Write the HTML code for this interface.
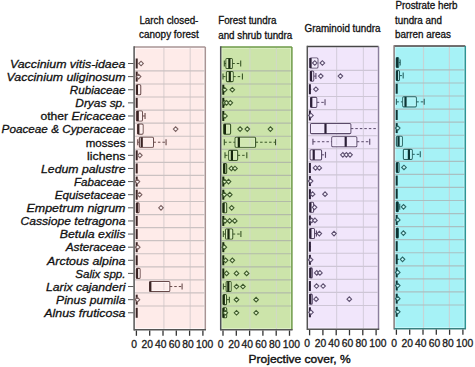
<!DOCTYPE html>
<html><head><meta charset="utf-8"><style>html,body{margin:0;padding:0;background:#fff;overflow:hidden}svg{display:block}text{font-family:"Liberation Sans",sans-serif}</style></head><body>
<svg width="475" height="367" viewBox="0 0 475 367">
<rect width="475" height="367" fill="#ffffff"/>
<text x="139.4" y="23.6" font-family="Liberation Sans, sans-serif" font-size="10" fill="#111" stroke="#111" stroke-width="0.3" textLength="59" lengthAdjust="spacingAndGlyphs">Larch closed-</text>
<text x="139.1" y="38" font-family="Liberation Sans, sans-serif" font-size="10" fill="#111" stroke="#111" stroke-width="0.3" textLength="59.6" lengthAdjust="spacingAndGlyphs">canopy forest</text>
<text x="218.2" y="24" font-family="Liberation Sans, sans-serif" font-size="10" fill="#111" stroke="#111" stroke-width="0.3" textLength="58.2" lengthAdjust="spacingAndGlyphs">Forest tundra</text>
<text x="218.2" y="38.7" font-family="Liberation Sans, sans-serif" font-size="10" fill="#111" stroke="#111" stroke-width="0.3" textLength="74.1" lengthAdjust="spacingAndGlyphs">and shrub tundra</text>
<text x="304.5" y="32.3" font-family="Liberation Sans, sans-serif" font-size="10" fill="#111" stroke="#111" stroke-width="0.3" textLength="76" lengthAdjust="spacingAndGlyphs">Graminoid tundra</text>
<text x="395.4" y="9.1" font-family="Liberation Sans, sans-serif" font-size="10" fill="#111" stroke="#111" stroke-width="0.3" textLength="62.2" lengthAdjust="spacingAndGlyphs">Prostrate herb</text>
<text x="395" y="23.9" font-family="Liberation Sans, sans-serif" font-size="10" fill="#111" stroke="#111" stroke-width="0.3" textLength="46.9" lengthAdjust="spacingAndGlyphs">tundra and</text>
<text x="395" y="37.7" font-family="Liberation Sans, sans-serif" font-size="10" fill="#111" stroke="#111" stroke-width="0.3" textLength="55.8" lengthAdjust="spacingAndGlyphs">barren areas</text>
<rect x="134.1" y="47" width="71.2" height="282.8" fill="#fff8f8"/>
<rect x="135.9" y="48.8" width="67.6" height="279.2" fill="#feebe9"/>
<line x1="163.9" y1="48" x2="163.9" y2="328.8" stroke="#ddd2d2" stroke-width="1.2"/>
<line x1="190.2" y1="48" x2="190.2" y2="328.8" stroke="#ddd2d2" stroke-width="1.2"/>
<line x1="135.1" y1="70.9" x2="204.3" y2="70.9" stroke="#cbc2c2" stroke-width="1.15"/>
<line x1="135.1" y1="83.96" x2="204.3" y2="83.96" stroke="#cbc2c2" stroke-width="1.15"/>
<line x1="135.1" y1="97.02" x2="204.3" y2="97.02" stroke="#cbc2c2" stroke-width="1.15"/>
<line x1="135.1" y1="110.08" x2="204.3" y2="110.08" stroke="#cbc2c2" stroke-width="1.15"/>
<line x1="135.1" y1="123.14" x2="204.3" y2="123.14" stroke="#cbc2c2" stroke-width="1.15"/>
<line x1="135.1" y1="136.2" x2="204.3" y2="136.2" stroke="#cbc2c2" stroke-width="1.15"/>
<line x1="135.1" y1="149.26" x2="204.3" y2="149.26" stroke="#cbc2c2" stroke-width="1.15"/>
<line x1="135.1" y1="162.32" x2="204.3" y2="162.32" stroke="#cbc2c2" stroke-width="1.15"/>
<line x1="135.1" y1="175.38" x2="204.3" y2="175.38" stroke="#cbc2c2" stroke-width="1.15"/>
<line x1="135.1" y1="188.44" x2="204.3" y2="188.44" stroke="#cbc2c2" stroke-width="1.15"/>
<line x1="135.1" y1="201.5" x2="204.3" y2="201.5" stroke="#cbc2c2" stroke-width="1.15"/>
<line x1="135.1" y1="214.56" x2="204.3" y2="214.56" stroke="#cbc2c2" stroke-width="1.15"/>
<line x1="135.1" y1="227.62" x2="204.3" y2="227.62" stroke="#cbc2c2" stroke-width="1.15"/>
<line x1="135.1" y1="240.68" x2="204.3" y2="240.68" stroke="#cbc2c2" stroke-width="1.15"/>
<line x1="135.1" y1="253.74" x2="204.3" y2="253.74" stroke="#cbc2c2" stroke-width="1.15"/>
<line x1="135.1" y1="266.8" x2="204.3" y2="266.8" stroke="#cbc2c2" stroke-width="1.15"/>
<line x1="135.1" y1="279.86" x2="204.3" y2="279.86" stroke="#cbc2c2" stroke-width="1.15"/>
<line x1="135.1" y1="292.92" x2="204.3" y2="292.92" stroke="#cbc2c2" stroke-width="1.15"/>
<line x1="135.1" y1="305.98" x2="204.3" y2="305.98" stroke="#cbc2c2" stroke-width="1.15"/>
<line x1="134.1" y1="47" x2="205.3" y2="47" stroke="#a89494" stroke-width="1.4"/>
<line x1="205.3" y1="47" x2="205.3" y2="329.8" stroke="#a89494" stroke-width="1.5"/>
<line x1="134.1" y1="46.3" x2="134.1" y2="330.5" stroke="#555555" stroke-width="1.5"/>
<line x1="134.1" y1="329.8" x2="206" y2="329.8" stroke="#555555" stroke-width="1.4"/>
<line x1="136.4" y1="330.5" x2="136.4" y2="335.8" stroke="#333" stroke-width="1.3"/>
<line x1="149.7" y1="330.5" x2="149.7" y2="335.8" stroke="#333" stroke-width="1.3"/>
<line x1="163" y1="330.5" x2="163" y2="335.8" stroke="#333" stroke-width="1.3"/>
<line x1="176.3" y1="330.5" x2="176.3" y2="335.8" stroke="#333" stroke-width="1.3"/>
<line x1="189.6" y1="330.5" x2="189.6" y2="335.8" stroke="#333" stroke-width="1.3"/>
<line x1="202.9" y1="330.5" x2="202.9" y2="335.8" stroke="#333" stroke-width="1.3"/>
<text x="134" y="347.6" font-family="Liberation Sans, sans-serif" font-size="10.3" fill="#1a1a1a" stroke="#1a1a1a" stroke-width="0.3" text-anchor="middle">0</text>
<text x="147.3" y="347.6" font-family="Liberation Sans, sans-serif" font-size="10.3" fill="#1a1a1a" stroke="#1a1a1a" stroke-width="0.3" text-anchor="middle">20</text>
<text x="160.7" y="347.6" font-family="Liberation Sans, sans-serif" font-size="10.3" fill="#1a1a1a" stroke="#1a1a1a" stroke-width="0.3" text-anchor="middle">40</text>
<text x="174.4" y="347.6" font-family="Liberation Sans, sans-serif" font-size="10.3" fill="#1a1a1a" stroke="#1a1a1a" stroke-width="0.3" text-anchor="middle">60</text>
<text x="188.1" y="347.6" font-family="Liberation Sans, sans-serif" font-size="10.3" fill="#1a1a1a" stroke="#1a1a1a" stroke-width="0.3" text-anchor="middle">80</text>
<text x="204.7" y="347.6" font-family="Liberation Sans, sans-serif" font-size="10.3" fill="#1a1a1a" stroke="#1a1a1a" stroke-width="0.3" text-anchor="middle">100</text>
<line x1="136.7" y1="58.5" x2="136.7" y2="68.5" stroke="#3a2424" stroke-width="2"/>
<path d="M138.75 63.5L141.06 61.2L143.36 63.5L141.06 65.8Z" fill="#fff8f8" stroke="#7a6060" stroke-width="1.1"/>
<line x1="136.7" y1="71.62" x2="136.7" y2="81.62" stroke="#3a2424" stroke-width="2"/>
<path d="M136.29 76.62L138.59 74.32L140.89 76.62L138.59 78.92Z" fill="#fff8f8" stroke="#7a6060" stroke-width="1.1"/>
<rect x="136.73" y="84.74" width="3.99" height="10" rx="1" fill="#fff7f7" fill-opacity="0.2" stroke="#684a4a" stroke-width="1.1"/>
<rect x="137.73" y="85.74" width="1.99" height="8" fill="none" stroke="#fff8f8" stroke-width="0.8"/>
<line x1="136.93" y1="84.74" x2="136.93" y2="94.74" stroke="#3a2424" stroke-width="2.2"/>
<line x1="136.7" y1="97.86" x2="136.7" y2="107.86" stroke="#3a2424" stroke-width="2"/>
<line x1="142.39" y1="115.98" x2="145.05" y2="115.98" stroke="#684a4a" stroke-width="1" stroke-dasharray="2.5 2"/>
<line x1="145.05" y1="112.98" x2="145.05" y2="118.98" stroke="#684a4a" stroke-width="1.1"/>
<rect x="136.4" y="110.98" width="5.99" height="10" rx="1" fill="#fff7f7" fill-opacity="0.2" stroke="#684a4a" stroke-width="1.1"/>
<rect x="137.4" y="111.98" width="3.99" height="8" fill="none" stroke="#fff8f8" stroke-width="0.8"/>
<line x1="137.73" y1="110.98" x2="137.73" y2="120.98" stroke="#3a2424" stroke-width="2.2"/>
<rect x="137.73" y="124.1" width="5.32" height="10" rx="1" fill="#fff7f7" fill-opacity="0.2" stroke="#684a4a" stroke-width="1.1"/>
<rect x="138.73" y="125.1" width="3.32" height="8" fill="none" stroke="#fff8f8" stroke-width="0.8"/>
<line x1="138.33" y1="124.1" x2="138.33" y2="134.1" stroke="#3a2424" stroke-width="2.2"/>
<path d="M173.33 129.1L175.63 126.8L177.94 129.1L175.63 131.4Z" fill="#fff8f8" stroke="#7a6060" stroke-width="1.1"/>
<line x1="137.73" y1="142.22" x2="139.39" y2="142.22" stroke="#684a4a" stroke-width="1" stroke-dasharray="2.5 2"/>
<line x1="137.73" y1="139.22" x2="137.73" y2="145.22" stroke="#684a4a" stroke-width="1.1"/>
<line x1="153.42" y1="142.22" x2="166.06" y2="142.22" stroke="#684a4a" stroke-width="1" stroke-dasharray="2.5 2"/>
<line x1="166.06" y1="139.22" x2="166.06" y2="145.22" stroke="#684a4a" stroke-width="1.1"/>
<rect x="139.39" y="137.22" width="14.03" height="10" rx="1" fill="#fff7f7" fill-opacity="0.2" stroke="#684a4a" stroke-width="1.1"/>
<rect x="140.39" y="138.22" width="12.03" height="8" fill="none" stroke="#fff8f8" stroke-width="0.8"/>
<line x1="141.72" y1="137.22" x2="141.72" y2="147.22" stroke="#3a2424" stroke-width="2.2"/>
<line x1="136.7" y1="150.34" x2="136.7" y2="160.34" stroke="#3a2424" stroke-width="2"/>
<path d="M137.56 155.34L139.86 153.04L142.16 155.34L139.86 157.64Z" fill="#fff8f8" stroke="#7a6060" stroke-width="1.1"/>
<line x1="136.7" y1="163.46" x2="136.7" y2="173.46" stroke="#3a2424" stroke-width="2"/>
<line x1="136.7" y1="176.58" x2="136.7" y2="186.58" stroke="#3a2424" stroke-width="2"/>
<path d="M135.1 181.58L137.4 179.28L139.7 181.58L137.4 183.88Z" fill="#fff8f8" stroke="#7a6060" stroke-width="1.1"/>
<line x1="136.7" y1="189.7" x2="136.7" y2="199.7" stroke="#3a2424" stroke-width="2"/>
<path d="M137.29 194.7L139.59 192.4L141.89 194.7L139.59 197Z" fill="#fff8f8" stroke="#7a6060" stroke-width="1.1"/>
<rect x="136.4" y="202.82" width="2.66" height="10" rx="1" fill="#fff7f7" fill-opacity="0.2" stroke="#684a4a" stroke-width="1.1"/>
<line x1="137" y1="202.82" x2="137" y2="212.82" stroke="#3a2424" stroke-width="2.2"/>
<path d="M158.7 207.82L161 205.52L163.31 207.82L161 210.12Z" fill="#fff8f8" stroke="#7a6060" stroke-width="1.1"/>
<line x1="136.7" y1="215.94" x2="136.7" y2="225.94" stroke="#3a2424" stroke-width="2"/>
<line x1="136.7" y1="229.06" x2="136.7" y2="239.06" stroke="#3a2424" stroke-width="2"/>
<line x1="136.7" y1="242.18" x2="136.7" y2="252.18" stroke="#3a2424" stroke-width="2"/>
<path d="M135.43 247.18L137.73 244.88L140.03 247.18L137.73 249.48Z" fill="#fff8f8" stroke="#7a6060" stroke-width="1.1"/>
<line x1="136.7" y1="255.3" x2="136.7" y2="265.3" stroke="#3a2424" stroke-width="2"/>
<rect x="136.4" y="268.42" width="3.66" height="10" rx="1" fill="#fff7f7" fill-opacity="0.2" stroke="#684a4a" stroke-width="1.1"/>
<rect x="137.4" y="269.42" width="1.66" height="8" fill="none" stroke="#fff8f8" stroke-width="0.8"/>
<line x1="137" y1="268.42" x2="137" y2="278.42" stroke="#3a2424" stroke-width="2.2"/>
<line x1="169.78" y1="286.54" x2="182.09" y2="286.54" stroke="#684a4a" stroke-width="1" stroke-dasharray="2.5 2"/>
<line x1="182.09" y1="283.54" x2="182.09" y2="289.54" stroke="#684a4a" stroke-width="1.1"/>
<rect x="149.7" y="281.54" width="20.08" height="10" rx="1" fill="#fff7f7" fill-opacity="0.2" stroke="#684a4a" stroke-width="1.1"/>
<rect x="150.7" y="282.54" width="18.08" height="8" fill="none" stroke="#fff8f8" stroke-width="0.8"/>
<line x1="150.3" y1="281.54" x2="150.3" y2="291.54" stroke="#3a2424" stroke-width="2.2"/>
<line x1="136.7" y1="294.66" x2="136.7" y2="304.66" stroke="#3a2424" stroke-width="2"/>
<path d="M135.1 299.66L137.4 297.36L139.7 299.66L137.4 301.96Z" fill="#fff8f8" stroke="#7a6060" stroke-width="1.1"/>
<line x1="136.7" y1="307.78" x2="136.7" y2="317.78" stroke="#3a2424" stroke-width="2"/>
<rect x="220.7" y="47" width="71.2" height="282.8" fill="#dcefc4"/>
<rect x="222.5" y="48.8" width="67.6" height="279.2" fill="#cce4aa"/>
<line x1="249.9" y1="48" x2="249.9" y2="328.8" stroke="#d0dac4" stroke-width="1.2"/>
<line x1="276.4" y1="48" x2="276.4" y2="328.8" stroke="#d0dac4" stroke-width="1.2"/>
<line x1="221.7" y1="70.9" x2="290.9" y2="70.9" stroke="#b2bba8" stroke-width="1.15"/>
<line x1="221.7" y1="83.96" x2="290.9" y2="83.96" stroke="#b2bba8" stroke-width="1.15"/>
<line x1="221.7" y1="97.02" x2="290.9" y2="97.02" stroke="#b2bba8" stroke-width="1.15"/>
<line x1="221.7" y1="110.08" x2="290.9" y2="110.08" stroke="#b2bba8" stroke-width="1.15"/>
<line x1="221.7" y1="123.14" x2="290.9" y2="123.14" stroke="#b2bba8" stroke-width="1.15"/>
<line x1="221.7" y1="136.2" x2="290.9" y2="136.2" stroke="#b2bba8" stroke-width="1.15"/>
<line x1="221.7" y1="149.26" x2="290.9" y2="149.26" stroke="#b2bba8" stroke-width="1.15"/>
<line x1="221.7" y1="162.32" x2="290.9" y2="162.32" stroke="#b2bba8" stroke-width="1.15"/>
<line x1="221.7" y1="175.38" x2="290.9" y2="175.38" stroke="#b2bba8" stroke-width="1.15"/>
<line x1="221.7" y1="188.44" x2="290.9" y2="188.44" stroke="#b2bba8" stroke-width="1.15"/>
<line x1="221.7" y1="201.5" x2="290.9" y2="201.5" stroke="#b2bba8" stroke-width="1.15"/>
<line x1="221.7" y1="214.56" x2="290.9" y2="214.56" stroke="#b2bba8" stroke-width="1.15"/>
<line x1="221.7" y1="227.62" x2="290.9" y2="227.62" stroke="#b2bba8" stroke-width="1.15"/>
<line x1="221.7" y1="240.68" x2="290.9" y2="240.68" stroke="#b2bba8" stroke-width="1.15"/>
<line x1="221.7" y1="253.74" x2="290.9" y2="253.74" stroke="#b2bba8" stroke-width="1.15"/>
<line x1="221.7" y1="266.8" x2="290.9" y2="266.8" stroke="#b2bba8" stroke-width="1.15"/>
<line x1="221.7" y1="279.86" x2="290.9" y2="279.86" stroke="#b2bba8" stroke-width="1.15"/>
<line x1="221.7" y1="292.92" x2="290.9" y2="292.92" stroke="#b2bba8" stroke-width="1.15"/>
<line x1="221.7" y1="305.98" x2="290.9" y2="305.98" stroke="#b2bba8" stroke-width="1.15"/>
<line x1="220.7" y1="47" x2="291.9" y2="47" stroke="#6e9a48" stroke-width="1.4"/>
<line x1="291.9" y1="47" x2="291.9" y2="329.8" stroke="#6e9a48" stroke-width="1.5"/>
<line x1="220.7" y1="46.3" x2="220.7" y2="330.5" stroke="#50505a" stroke-width="1.5"/>
<line x1="220.7" y1="329.8" x2="292.6" y2="329.8" stroke="#555555" stroke-width="1.4"/>
<line x1="223" y1="330.5" x2="223" y2="335.8" stroke="#333" stroke-width="1.3"/>
<line x1="236.3" y1="330.5" x2="236.3" y2="335.8" stroke="#333" stroke-width="1.3"/>
<line x1="249.6" y1="330.5" x2="249.6" y2="335.8" stroke="#333" stroke-width="1.3"/>
<line x1="262.9" y1="330.5" x2="262.9" y2="335.8" stroke="#333" stroke-width="1.3"/>
<line x1="276.2" y1="330.5" x2="276.2" y2="335.8" stroke="#333" stroke-width="1.3"/>
<line x1="289.5" y1="330.5" x2="289.5" y2="335.8" stroke="#333" stroke-width="1.3"/>
<text x="220.6" y="347.6" font-family="Liberation Sans, sans-serif" font-size="10.3" fill="#1a1a1a" stroke="#1a1a1a" stroke-width="0.3" text-anchor="middle">0</text>
<text x="233.9" y="347.6" font-family="Liberation Sans, sans-serif" font-size="10.3" fill="#1a1a1a" stroke="#1a1a1a" stroke-width="0.3" text-anchor="middle">20</text>
<text x="247.3" y="347.6" font-family="Liberation Sans, sans-serif" font-size="10.3" fill="#1a1a1a" stroke="#1a1a1a" stroke-width="0.3" text-anchor="middle">40</text>
<text x="261" y="347.6" font-family="Liberation Sans, sans-serif" font-size="10.3" fill="#1a1a1a" stroke="#1a1a1a" stroke-width="0.3" text-anchor="middle">60</text>
<text x="274.7" y="347.6" font-family="Liberation Sans, sans-serif" font-size="10.3" fill="#1a1a1a" stroke="#1a1a1a" stroke-width="0.3" text-anchor="middle">80</text>
<text x="291.3" y="347.6" font-family="Liberation Sans, sans-serif" font-size="10.3" fill="#1a1a1a" stroke="#1a1a1a" stroke-width="0.3" text-anchor="middle">100</text>
<line x1="224.33" y1="63.5" x2="225.99" y2="63.5" stroke="#3a5628" stroke-width="1" stroke-dasharray="2.5 2"/>
<line x1="224.33" y1="60.5" x2="224.33" y2="66.5" stroke="#3a5628" stroke-width="1.1"/>
<line x1="232.31" y1="63.5" x2="240.69" y2="63.5" stroke="#3a5628" stroke-width="1" stroke-dasharray="2.5 2"/>
<line x1="240.69" y1="60.5" x2="240.69" y2="66.5" stroke="#3a5628" stroke-width="1.1"/>
<rect x="225.99" y="58.5" width="6.32" height="10" rx="1" fill="#e6f4d4" fill-opacity="0.2" stroke="#3a5628" stroke-width="1.1"/>
<rect x="226.99" y="59.5" width="4.32" height="8" fill="none" stroke="#dcefc4" stroke-width="0.8"/>
<line x1="229.38" y1="58.5" x2="229.38" y2="68.5" stroke="#16260c" stroke-width="2.2"/>
<line x1="223" y1="76.62" x2="226.39" y2="76.62" stroke="#3a5628" stroke-width="1" stroke-dasharray="2.5 2"/>
<line x1="223" y1="73.62" x2="223" y2="79.62" stroke="#3a5628" stroke-width="1.1"/>
<line x1="233.17" y1="76.62" x2="242.42" y2="76.62" stroke="#3a5628" stroke-width="1" stroke-dasharray="2.5 2"/>
<line x1="242.42" y1="73.62" x2="242.42" y2="79.62" stroke="#3a5628" stroke-width="1.1"/>
<rect x="226.39" y="71.62" width="6.78" height="10" rx="1" fill="#e6f4d4" fill-opacity="0.2" stroke="#3a5628" stroke-width="1.1"/>
<rect x="227.39" y="72.62" width="4.78" height="8" fill="none" stroke="#dcefc4" stroke-width="0.8"/>
<line x1="229.78" y1="71.62" x2="229.78" y2="81.62" stroke="#16260c" stroke-width="2.2"/>
<line x1="223.3" y1="84.74" x2="223.3" y2="94.74" stroke="#16260c" stroke-width="2"/>
<path d="M222.36 89.74L224.66 87.44L226.96 89.74L224.66 92.04Z" fill="#dcefc4" stroke="#3e5a2c" stroke-width="1.1"/>
<path d="M230.01 89.74L232.31 87.44L234.61 89.74L232.31 92.04Z" fill="#dcefc4" stroke="#3e5a2c" stroke-width="1.1"/>
<line x1="223.3" y1="97.86" x2="223.3" y2="107.86" stroke="#16260c" stroke-width="2"/>
<path d="M222.36 102.86L224.66 100.56L226.96 102.86L224.66 105.16Z" fill="#dcefc4" stroke="#3e5a2c" stroke-width="1.1"/>
<path d="M224.29 102.86L226.59 100.56L228.89 102.86L226.59 105.16Z" fill="#dcefc4" stroke="#3e5a2c" stroke-width="1.1"/>
<path d="M228.01 102.86L230.31 100.56L232.62 102.86L230.31 105.16Z" fill="#dcefc4" stroke="#3e5a2c" stroke-width="1.1"/>
<line x1="223.3" y1="110.98" x2="223.3" y2="120.98" stroke="#16260c" stroke-width="2"/>
<path d="M222.69 115.98L225 113.68L227.3 115.98L225 118.28Z" fill="#dcefc4" stroke="#3e5a2c" stroke-width="1.1"/>
<rect x="223.66" y="124.1" width="6.92" height="10" rx="1" fill="#e6f4d4" fill-opacity="0.2" stroke="#3a5628" stroke-width="1.1"/>
<rect x="224.66" y="125.1" width="4.92" height="8" fill="none" stroke="#dcefc4" stroke-width="0.8"/>
<line x1="224.93" y1="124.1" x2="224.93" y2="134.1" stroke="#16260c" stroke-width="2.2"/>
<path d="M237.79 129.1L240.09 126.8L242.39 129.1L240.09 131.4Z" fill="#dcefc4" stroke="#3e5a2c" stroke-width="1.1"/>
<path d="M244.97 129.1L247.27 126.8L249.57 129.1L247.27 131.4Z" fill="#dcefc4" stroke="#3e5a2c" stroke-width="1.1"/>
<path d="M268.11 129.1L270.41 126.8L272.71 129.1L270.41 131.4Z" fill="#dcefc4" stroke="#3e5a2c" stroke-width="1.1"/>
<line x1="224.33" y1="142.22" x2="235.1" y2="142.22" stroke="#3a5628" stroke-width="1" stroke-dasharray="2.5 2"/>
<line x1="224.33" y1="139.22" x2="224.33" y2="145.22" stroke="#3a5628" stroke-width="1.1"/>
<line x1="255.59" y1="142.22" x2="275.54" y2="142.22" stroke="#3a5628" stroke-width="1" stroke-dasharray="2.5 2"/>
<line x1="275.54" y1="139.22" x2="275.54" y2="145.22" stroke="#3a5628" stroke-width="1.1"/>
<rect x="235.1" y="137.22" width="20.48" height="10" rx="1" fill="#e6f4d4" fill-opacity="0.2" stroke="#3a5628" stroke-width="1.1"/>
<rect x="236.1" y="138.22" width="18.48" height="8" fill="none" stroke="#dcefc4" stroke-width="0.8"/>
<line x1="238.83" y1="137.22" x2="238.83" y2="147.22" stroke="#16260c" stroke-width="2.2"/>
<line x1="225" y1="155.34" x2="228.72" y2="155.34" stroke="#3a5628" stroke-width="1" stroke-dasharray="2.5 2"/>
<line x1="225" y1="152.34" x2="225" y2="158.34" stroke="#3a5628" stroke-width="1.1"/>
<line x1="237.63" y1="155.34" x2="246.81" y2="155.34" stroke="#3a5628" stroke-width="1" stroke-dasharray="2.5 2"/>
<line x1="246.81" y1="152.34" x2="246.81" y2="158.34" stroke="#3a5628" stroke-width="1.1"/>
<rect x="228.72" y="150.34" width="8.91" height="10" rx="1" fill="#e6f4d4" fill-opacity="0.2" stroke="#3a5628" stroke-width="1.1"/>
<rect x="229.72" y="151.34" width="6.91" height="8" fill="none" stroke="#dcefc4" stroke-width="0.8"/>
<line x1="231.91" y1="150.34" x2="231.91" y2="160.34" stroke="#16260c" stroke-width="2.2"/>
<rect x="223.66" y="163.46" width="2.99" height="10" rx="1" fill="#e6f4d4" fill-opacity="0.2" stroke="#3a5628" stroke-width="1.1"/>
<line x1="224.26" y1="163.46" x2="224.26" y2="173.46" stroke="#16260c" stroke-width="2.2"/>
<path d="M229.08 168.46L231.38 166.16L233.68 168.46L231.38 170.76Z" fill="#dcefc4" stroke="#3e5a2c" stroke-width="1.1"/>
<path d="M232.67 168.46L234.97 166.16L237.27 168.46L234.97 170.76Z" fill="#dcefc4" stroke="#3e5a2c" stroke-width="1.1"/>
<line x1="223.3" y1="176.58" x2="223.3" y2="186.58" stroke="#16260c" stroke-width="2"/>
<path d="M222.36 181.58L224.66 179.28L226.96 181.58L224.66 183.88Z" fill="#dcefc4" stroke="#3e5a2c" stroke-width="1.1"/>
<path d="M226.22 181.58L228.52 179.28L230.82 181.58L228.52 183.88Z" fill="#dcefc4" stroke="#3e5a2c" stroke-width="1.1"/>
<line x1="223.3" y1="189.7" x2="223.3" y2="199.7" stroke="#16260c" stroke-width="2"/>
<path d="M222.03 194.7L224.33 192.4L226.63 194.7L224.33 197Z" fill="#dcefc4" stroke="#3e5a2c" stroke-width="1.1"/>
<path d="M227.48 194.7L229.78 192.4L232.08 194.7L229.78 197Z" fill="#dcefc4" stroke="#3e5a2c" stroke-width="1.1"/>
<rect x="223" y="202.82" width="3.66" height="10" rx="1" fill="#e6f4d4" fill-opacity="0.2" stroke="#3a5628" stroke-width="1.1"/>
<rect x="224" y="203.82" width="1.66" height="8" fill="none" stroke="#dcefc4" stroke-width="0.8"/>
<line x1="223.6" y1="202.82" x2="223.6" y2="212.82" stroke="#16260c" stroke-width="2.2"/>
<path d="M229.34 207.82L231.65 205.52L233.95 207.82L231.65 210.12Z" fill="#dcefc4" stroke="#3e5a2c" stroke-width="1.1"/>
<line x1="223.3" y1="215.94" x2="223.3" y2="225.94" stroke="#16260c" stroke-width="2"/>
<path d="M222.69 220.94L225 218.64L227.3 220.94L225 223.24Z" fill="#dcefc4" stroke="#3e5a2c" stroke-width="1.1"/>
<path d="M227.35 220.94L229.65 218.64L231.95 220.94L229.65 223.24Z" fill="#dcefc4" stroke="#3e5a2c" stroke-width="1.1"/>
<path d="M232.47 220.94L234.77 218.64L237.07 220.94L234.77 223.24Z" fill="#dcefc4" stroke="#3e5a2c" stroke-width="1.1"/>
<line x1="223.33" y1="234.06" x2="225.59" y2="234.06" stroke="#3a5628" stroke-width="1" stroke-dasharray="2.5 2"/>
<line x1="223.33" y1="231.06" x2="223.33" y2="237.06" stroke="#3a5628" stroke-width="1.1"/>
<line x1="232.71" y1="234.06" x2="240.89" y2="234.06" stroke="#3a5628" stroke-width="1" stroke-dasharray="2.5 2"/>
<line x1="240.89" y1="231.06" x2="240.89" y2="237.06" stroke="#3a5628" stroke-width="1.1"/>
<rect x="225.59" y="229.06" width="7.12" height="10" rx="1" fill="#e6f4d4" fill-opacity="0.2" stroke="#3a5628" stroke-width="1.1"/>
<rect x="226.59" y="230.06" width="5.12" height="8" fill="none" stroke="#dcefc4" stroke-width="0.8"/>
<line x1="228.52" y1="229.06" x2="228.52" y2="239.06" stroke="#16260c" stroke-width="2.2"/>
<line x1="223.3" y1="242.18" x2="223.3" y2="252.18" stroke="#16260c" stroke-width="2"/>
<path d="M222.03 247.18L224.33 244.88L226.63 247.18L224.33 249.48Z" fill="#dcefc4" stroke="#3e5a2c" stroke-width="1.1"/>
<line x1="223.3" y1="255.3" x2="223.3" y2="265.3" stroke="#16260c" stroke-width="2"/>
<path d="M223.29 260.3L225.59 258L227.89 260.3L225.59 262.6Z" fill="#dcefc4" stroke="#3e5a2c" stroke-width="1.1"/>
<path d="M230.01 260.3L232.31 258L234.61 260.3L232.31 262.6Z" fill="#dcefc4" stroke="#3e5a2c" stroke-width="1.1"/>
<line x1="223.3" y1="268.42" x2="223.3" y2="278.42" stroke="#16260c" stroke-width="2"/>
<path d="M224.29 273.42L226.59 271.12L228.89 273.42L226.59 275.72Z" fill="#dcefc4" stroke="#3e5a2c" stroke-width="1.1"/>
<path d="M234.2 273.42L236.5 271.12L238.8 273.42L236.5 275.72Z" fill="#dcefc4" stroke="#3e5a2c" stroke-width="1.1"/>
<path d="M244.31 273.42L246.61 271.12L248.91 273.42L246.61 275.72Z" fill="#dcefc4" stroke="#3e5a2c" stroke-width="1.1"/>
<line x1="223.4" y1="286.54" x2="226.19" y2="286.54" stroke="#3a5628" stroke-width="1" stroke-dasharray="2.5 2"/>
<line x1="223.4" y1="283.54" x2="223.4" y2="289.54" stroke="#3a5628" stroke-width="1.1"/>
<rect x="226.19" y="281.54" width="4.92" height="10" rx="1" fill="#e6f4d4" fill-opacity="0.2" stroke="#3a5628" stroke-width="1.1"/>
<rect x="227.19" y="282.54" width="2.92" height="8" fill="none" stroke="#dcefc4" stroke-width="0.8"/>
<line x1="228.32" y1="281.54" x2="228.32" y2="291.54" stroke="#16260c" stroke-width="2.2"/>
<path d="M234.2 286.54L236.5 284.24L238.8 286.54L236.5 288.84Z" fill="#dcefc4" stroke="#3e5a2c" stroke-width="1.1"/>
<path d="M240.65 286.54L242.95 284.24L245.25 286.54L242.95 288.84Z" fill="#dcefc4" stroke="#3e5a2c" stroke-width="1.1"/>
<line x1="226.52" y1="299.66" x2="229.38" y2="299.66" stroke="#3a5628" stroke-width="1" stroke-dasharray="2.5 2"/>
<line x1="229.38" y1="296.66" x2="229.38" y2="302.66" stroke="#3a5628" stroke-width="1.1"/>
<rect x="223.2" y="294.66" width="3.32" height="10" rx="1" fill="#e6f4d4" fill-opacity="0.2" stroke="#3a5628" stroke-width="1.1"/>
<rect x="224.2" y="295.66" width="1.32" height="8" fill="none" stroke="#dcefc4" stroke-width="0.8"/>
<line x1="223.8" y1="294.66" x2="223.8" y2="304.66" stroke="#16260c" stroke-width="2.2"/>
<path d="M234.2 299.66L236.5 297.36L238.8 299.66L236.5 301.96Z" fill="#dcefc4" stroke="#3e5a2c" stroke-width="1.1"/>
<path d="M253.82 299.66L256.12 297.36L258.42 299.66L256.12 301.96Z" fill="#dcefc4" stroke="#3e5a2c" stroke-width="1.1"/>
<rect x="223" y="307.78" width="3.66" height="10" rx="1" fill="#e6f4d4" fill-opacity="0.2" stroke="#3a5628" stroke-width="1.1"/>
<rect x="224" y="308.78" width="1.66" height="8" fill="none" stroke="#dcefc4" stroke-width="0.8"/>
<line x1="223.6" y1="307.78" x2="223.6" y2="317.78" stroke="#16260c" stroke-width="2.2"/>
<path d="M223.03 312.78L225.33 310.48L227.63 312.78L225.33 315.08Z" fill="#dcefc4" stroke="#3e5a2c" stroke-width="1.1"/>
<path d="M234.2 312.78L236.5 310.48L238.8 312.78L236.5 315.08Z" fill="#dcefc4" stroke="#3e5a2c" stroke-width="1.1"/>
<path d="M253.82 312.78L256.12 310.48L258.42 312.78L256.12 315.08Z" fill="#dcefc4" stroke="#3e5a2c" stroke-width="1.1"/>
<rect x="307.3" y="46.5" width="71.2" height="282.8" fill="#f8f2ff"/>
<rect x="309.1" y="48.3" width="67.6" height="279.2" fill="#f1e6fb"/>
<line x1="336.6" y1="47.5" x2="336.6" y2="328.3" stroke="#d8d0e0" stroke-width="1.2"/>
<line x1="363.4" y1="47.5" x2="363.4" y2="328.3" stroke="#d8d0e0" stroke-width="1.2"/>
<line x1="308.3" y1="70.4" x2="377.5" y2="70.4" stroke="#cec6d6" stroke-width="1.15"/>
<line x1="308.3" y1="83.46" x2="377.5" y2="83.46" stroke="#cec6d6" stroke-width="1.15"/>
<line x1="308.3" y1="96.52" x2="377.5" y2="96.52" stroke="#cec6d6" stroke-width="1.15"/>
<line x1="308.3" y1="109.58" x2="377.5" y2="109.58" stroke="#cec6d6" stroke-width="1.15"/>
<line x1="308.3" y1="122.64" x2="377.5" y2="122.64" stroke="#cec6d6" stroke-width="1.15"/>
<line x1="308.3" y1="135.7" x2="377.5" y2="135.7" stroke="#cec6d6" stroke-width="1.15"/>
<line x1="308.3" y1="148.76" x2="377.5" y2="148.76" stroke="#cec6d6" stroke-width="1.15"/>
<line x1="308.3" y1="161.82" x2="377.5" y2="161.82" stroke="#cec6d6" stroke-width="1.15"/>
<line x1="308.3" y1="174.88" x2="377.5" y2="174.88" stroke="#cec6d6" stroke-width="1.15"/>
<line x1="308.3" y1="187.94" x2="377.5" y2="187.94" stroke="#cec6d6" stroke-width="1.15"/>
<line x1="308.3" y1="201" x2="377.5" y2="201" stroke="#cec6d6" stroke-width="1.15"/>
<line x1="308.3" y1="214.06" x2="377.5" y2="214.06" stroke="#cec6d6" stroke-width="1.15"/>
<line x1="308.3" y1="227.12" x2="377.5" y2="227.12" stroke="#cec6d6" stroke-width="1.15"/>
<line x1="308.3" y1="240.18" x2="377.5" y2="240.18" stroke="#cec6d6" stroke-width="1.15"/>
<line x1="308.3" y1="253.24" x2="377.5" y2="253.24" stroke="#cec6d6" stroke-width="1.15"/>
<line x1="308.3" y1="266.3" x2="377.5" y2="266.3" stroke="#cec6d6" stroke-width="1.15"/>
<line x1="308.3" y1="279.36" x2="377.5" y2="279.36" stroke="#cec6d6" stroke-width="1.15"/>
<line x1="308.3" y1="292.42" x2="377.5" y2="292.42" stroke="#cec6d6" stroke-width="1.15"/>
<line x1="308.3" y1="305.48" x2="377.5" y2="305.48" stroke="#cec6d6" stroke-width="1.15"/>
<line x1="307.3" y1="46.5" x2="378.5" y2="46.5" stroke="#474747" stroke-width="1.4"/>
<line x1="378.5" y1="46.5" x2="378.5" y2="329.3" stroke="#8c7e9e" stroke-width="1.5"/>
<line x1="307.3" y1="45.8" x2="307.3" y2="330" stroke="#555555" stroke-width="1.5"/>
<line x1="307.3" y1="329.3" x2="379.2" y2="329.3" stroke="#555555" stroke-width="1.4"/>
<line x1="309.6" y1="330" x2="309.6" y2="335.3" stroke="#333" stroke-width="1.3"/>
<line x1="322.9" y1="330" x2="322.9" y2="335.3" stroke="#333" stroke-width="1.3"/>
<line x1="336.2" y1="330" x2="336.2" y2="335.3" stroke="#333" stroke-width="1.3"/>
<line x1="349.5" y1="330" x2="349.5" y2="335.3" stroke="#333" stroke-width="1.3"/>
<line x1="362.8" y1="330" x2="362.8" y2="335.3" stroke="#333" stroke-width="1.3"/>
<line x1="376.1" y1="330" x2="376.1" y2="335.3" stroke="#333" stroke-width="1.3"/>
<text x="307.2" y="347.35" font-family="Liberation Sans, sans-serif" font-size="10.3" fill="#1a1a1a" stroke="#1a1a1a" stroke-width="0.3" text-anchor="middle">0</text>
<text x="320.5" y="347.35" font-family="Liberation Sans, sans-serif" font-size="10.3" fill="#1a1a1a" stroke="#1a1a1a" stroke-width="0.3" text-anchor="middle">20</text>
<text x="333.9" y="347.35" font-family="Liberation Sans, sans-serif" font-size="10.3" fill="#1a1a1a" stroke="#1a1a1a" stroke-width="0.3" text-anchor="middle">40</text>
<text x="347.6" y="347.35" font-family="Liberation Sans, sans-serif" font-size="10.3" fill="#1a1a1a" stroke="#1a1a1a" stroke-width="0.3" text-anchor="middle">60</text>
<text x="361.3" y="347.35" font-family="Liberation Sans, sans-serif" font-size="10.3" fill="#1a1a1a" stroke="#1a1a1a" stroke-width="0.3" text-anchor="middle">80</text>
<text x="377.9" y="347.35" font-family="Liberation Sans, sans-serif" font-size="10.3" fill="#1a1a1a" stroke="#1a1a1a" stroke-width="0.3" text-anchor="middle">100</text>
<rect x="309.93" y="58" width="7.98" height="10" rx="1" fill="#f7f1fd" fill-opacity="0.2" stroke="#5a4a6a" stroke-width="1.1"/>
<rect x="310.93" y="59" width="5.98" height="8" fill="none" stroke="#f8f2ff" stroke-width="0.8"/>
<line x1="310.53" y1="58" x2="310.53" y2="68" stroke="#2a1e36" stroke-width="2.2"/>
<path d="M312.49 63L314.79 60.7L317.09 63L314.79 65.3Z" fill="#f8f2ff" stroke="#5e5070" stroke-width="1.1"/>
<path d="M320.07 63L322.37 60.7L324.67 63L322.37 65.3Z" fill="#f8f2ff" stroke="#5e5070" stroke-width="1.1"/>
<line x1="313.72" y1="76.12" x2="315.92" y2="76.12" stroke="#5a4a6a" stroke-width="1" stroke-dasharray="2.5 2"/>
<line x1="315.92" y1="73.12" x2="315.92" y2="79.12" stroke="#5a4a6a" stroke-width="1.1"/>
<rect x="310.4" y="71.12" width="3.32" height="10" rx="1" fill="#f7f1fd" fill-opacity="0.2" stroke="#5a4a6a" stroke-width="1.1"/>
<rect x="311.4" y="72.12" width="1.32" height="8" fill="none" stroke="#f8f2ff" stroke-width="0.8"/>
<line x1="311" y1="71.12" x2="311" y2="81.12" stroke="#2a1e36" stroke-width="2.2"/>
<path d="M318.47 76.12L320.77 73.82L323.07 76.12L320.77 78.42Z" fill="#f8f2ff" stroke="#5e5070" stroke-width="1.1"/>
<path d="M338.09 76.12L340.39 73.82L342.69 76.12L340.39 78.42Z" fill="#f8f2ff" stroke="#5e5070" stroke-width="1.1"/>
<line x1="309.6" y1="89.24" x2="311.26" y2="89.24" stroke="#5a4a6a" stroke-width="1"/>
<line x1="309.9" y1="84.24" x2="309.9" y2="94.24" stroke="#2a1e36" stroke-width="2"/>
<path d="M313.62 89.24L315.92 86.94L318.22 89.24L315.92 91.54Z" fill="#f8f2ff" stroke="#5e5070" stroke-width="1.1"/>
<line x1="316.78" y1="102.36" x2="325.03" y2="102.36" stroke="#5a4a6a" stroke-width="1" stroke-dasharray="2.5 2"/>
<line x1="325.03" y1="99.36" x2="325.03" y2="105.36" stroke="#5a4a6a" stroke-width="1.1"/>
<rect x="310.66" y="97.36" width="6.12" height="10" rx="1" fill="#f7f1fd" fill-opacity="0.2" stroke="#5a4a6a" stroke-width="1.1"/>
<rect x="311.66" y="98.36" width="4.12" height="8" fill="none" stroke="#f8f2ff" stroke-width="0.8"/>
<line x1="311.26" y1="97.36" x2="311.26" y2="107.36" stroke="#2a1e36" stroke-width="2.2"/>
<line x1="309.9" y1="110.48" x2="309.9" y2="120.48" stroke="#2a1e36" stroke-width="2"/>
<path d="M308.63 115.48L310.93 113.18L313.23 115.48L310.93 117.78Z" fill="#f8f2ff" stroke="#5e5070" stroke-width="1.1"/>
<line x1="350.83" y1="128.6" x2="376.1" y2="128.6" stroke="#5a4a6a" stroke-width="1" stroke-dasharray="2.5 2"/>
<rect x="310.53" y="123.6" width="40.3" height="10" rx="1" fill="#f7f1fd" fill-opacity="0.2" stroke="#5a4a6a" stroke-width="1.1"/>
<rect x="311.53" y="124.6" width="38.3" height="8" fill="none" stroke="#f8f2ff" stroke-width="0.8"/>
<line x1="325.49" y1="123.6" x2="325.49" y2="133.6" stroke="#2a1e36" stroke-width="2.2"/>
<line x1="312.93" y1="141.72" x2="331.81" y2="141.72" stroke="#5a4a6a" stroke-width="1" stroke-dasharray="2.5 2"/>
<line x1="312.93" y1="138.72" x2="312.93" y2="144.72" stroke="#5a4a6a" stroke-width="1.1"/>
<line x1="356.82" y1="141.72" x2="369.72" y2="141.72" stroke="#5a4a6a" stroke-width="1" stroke-dasharray="2.5 2"/>
<line x1="369.72" y1="138.72" x2="369.72" y2="144.72" stroke="#5a4a6a" stroke-width="1.1"/>
<rect x="331.81" y="136.72" width="25" height="10" rx="1" fill="#f7f1fd" fill-opacity="0.2" stroke="#5a4a6a" stroke-width="1.1"/>
<rect x="332.81" y="137.72" width="23" height="8" fill="none" stroke="#f8f2ff" stroke-width="0.8"/>
<line x1="345.71" y1="136.72" x2="345.71" y2="146.72" stroke="#2a1e36" stroke-width="2.2"/>
<line x1="321.57" y1="154.84" x2="325.49" y2="154.84" stroke="#5a4a6a" stroke-width="1" stroke-dasharray="2.5 2"/>
<line x1="325.49" y1="151.84" x2="325.49" y2="157.84" stroke="#5a4a6a" stroke-width="1.1"/>
<rect x="310.2" y="149.84" width="11.37" height="10" rx="1" fill="#f7f1fd" fill-opacity="0.2" stroke="#5a4a6a" stroke-width="1.1"/>
<rect x="311.2" y="150.84" width="9.37" height="8" fill="none" stroke="#f8f2ff" stroke-width="0.8"/>
<line x1="313.72" y1="149.84" x2="313.72" y2="159.84" stroke="#2a1e36" stroke-width="2.2"/>
<path d="M340.55 154.84L342.85 152.54L345.15 154.84L342.85 157.14Z" fill="#f8f2ff" stroke="#5e5070" stroke-width="1.1"/>
<path d="M344.07 154.84L346.37 152.54L348.67 154.84L346.37 157.14Z" fill="#f8f2ff" stroke="#5e5070" stroke-width="1.1"/>
<path d="M347.73 154.84L350.03 152.54L352.33 154.84L350.03 157.14Z" fill="#f8f2ff" stroke="#5e5070" stroke-width="1.1"/>
<line x1="309.9" y1="162.96" x2="309.9" y2="172.96" stroke="#2a1e36" stroke-width="2"/>
<path d="M313.22 167.96L315.52 165.66L317.82 167.96L315.52 170.26Z" fill="#f8f2ff" stroke="#5e5070" stroke-width="1.1"/>
<path d="M317.01 167.96L319.31 165.66L321.61 167.96L319.31 170.26Z" fill="#f8f2ff" stroke="#5e5070" stroke-width="1.1"/>
<line x1="309.9" y1="176.08" x2="309.9" y2="186.08" stroke="#2a1e36" stroke-width="2"/>
<path d="M308.3 181.08L310.6 178.78L312.9 181.08L310.6 183.38Z" fill="#f8f2ff" stroke="#5e5070" stroke-width="1.1"/>
<line x1="309.6" y1="194.2" x2="310.93" y2="194.2" stroke="#5a4a6a" stroke-width="1"/>
<line x1="309.9" y1="189.2" x2="309.9" y2="199.2" stroke="#2a1e36" stroke-width="2"/>
<path d="M310.29 194.2L312.59 191.9L314.89 194.2L312.59 196.5Z" fill="#f8f2ff" stroke="#5e5070" stroke-width="1.1"/>
<path d="M322.73 194.2L325.03 191.9L327.33 194.2L325.03 196.5Z" fill="#f8f2ff" stroke="#5e5070" stroke-width="1.1"/>
<rect x="309.8" y="202.32" width="3.79" height="10" rx="1" fill="#f7f1fd" fill-opacity="0.2" stroke="#5a4a6a" stroke-width="1.1"/>
<rect x="310.8" y="203.32" width="1.79" height="8" fill="none" stroke="#f8f2ff" stroke-width="0.8"/>
<line x1="310.4" y1="202.32" x2="310.4" y2="212.32" stroke="#2a1e36" stroke-width="2.2"/>
<path d="M312.22 207.32L314.52 205.02L316.82 207.32L314.52 209.62Z" fill="#f8f2ff" stroke="#5e5070" stroke-width="1.1"/>
<line x1="309.9" y1="215.44" x2="309.9" y2="225.44" stroke="#2a1e36" stroke-width="2"/>
<path d="M309.43 220.44L311.73 218.14L314.03 220.44L311.73 222.74Z" fill="#f8f2ff" stroke="#5e5070" stroke-width="1.1"/>
<path d="M312.62 220.44L314.92 218.14L317.22 220.44L314.92 222.74Z" fill="#f8f2ff" stroke="#5e5070" stroke-width="1.1"/>
<line x1="314.52" y1="233.56" x2="316.45" y2="233.56" stroke="#5a4a6a" stroke-width="1" stroke-dasharray="2.5 2"/>
<line x1="316.45" y1="230.56" x2="316.45" y2="236.56" stroke="#5a4a6a" stroke-width="1.1"/>
<rect x="309.8" y="228.56" width="4.72" height="10" rx="1" fill="#f7f1fd" fill-opacity="0.2" stroke="#5a4a6a" stroke-width="1.1"/>
<rect x="310.8" y="229.56" width="2.72" height="8" fill="none" stroke="#f8f2ff" stroke-width="0.8"/>
<line x1="310.4" y1="228.56" x2="310.4" y2="238.56" stroke="#2a1e36" stroke-width="2.2"/>
<path d="M317.01 233.56L319.31 231.26L321.61 233.56L319.31 235.86Z" fill="#f8f2ff" stroke="#5e5070" stroke-width="1.1"/>
<path d="M331.71 233.56L334.01 231.26L336.31 233.56L334.01 235.86Z" fill="#f8f2ff" stroke="#5e5070" stroke-width="1.1"/>
<line x1="309.6" y1="246.68" x2="310.93" y2="246.68" stroke="#5a4a6a" stroke-width="1"/>
<line x1="309.9" y1="241.68" x2="309.9" y2="251.68" stroke="#2a1e36" stroke-width="2"/>
<line x1="309.9" y1="254.8" x2="309.9" y2="264.8" stroke="#2a1e36" stroke-width="2"/>
<path d="M308.3 259.8L310.6 257.5L312.9 259.8L310.6 262.1Z" fill="#f8f2ff" stroke="#5e5070" stroke-width="1.1"/>
<rect x="309.8" y="267.92" width="2.46" height="10" rx="1" fill="#f7f1fd" fill-opacity="0.2" stroke="#5a4a6a" stroke-width="1.1"/>
<line x1="310.4" y1="267.92" x2="310.4" y2="277.92" stroke="#2a1e36" stroke-width="2.2"/>
<path d="M314.48 272.92L316.78 270.62L319.08 272.92L316.78 275.22Z" fill="#f8f2ff" stroke="#5e5070" stroke-width="1.1"/>
<path d="M317.61 272.92L319.91 270.62L322.21 272.92L319.91 275.22Z" fill="#f8f2ff" stroke="#5e5070" stroke-width="1.1"/>
<line x1="309.6" y1="286.04" x2="310.93" y2="286.04" stroke="#5a4a6a" stroke-width="1"/>
<line x1="309.9" y1="281.04" x2="309.9" y2="291.04" stroke="#2a1e36" stroke-width="2"/>
<path d="M314.22 286.04L316.52 283.74L318.82 286.04L316.52 288.34Z" fill="#f8f2ff" stroke="#5e5070" stroke-width="1.1"/>
<path d="M320.8 286.04L323.1 283.74L325.4 286.04L323.1 288.34Z" fill="#f8f2ff" stroke="#5e5070" stroke-width="1.1"/>
<rect x="309.6" y="294.16" width="2.66" height="10" rx="1" fill="#f7f1fd" fill-opacity="0.2" stroke="#5a4a6a" stroke-width="1.1"/>
<line x1="310.2" y1="294.16" x2="310.2" y2="304.16" stroke="#2a1e36" stroke-width="2.2"/>
<path d="M313.82 299.16L316.12 296.86L318.42 299.16L316.12 301.46Z" fill="#f8f2ff" stroke="#5e5070" stroke-width="1.1"/>
<path d="M347 299.16L349.3 296.86L351.6 299.16L349.3 301.46Z" fill="#f8f2ff" stroke="#5e5070" stroke-width="1.1"/>
<line x1="309.9" y1="307.28" x2="309.9" y2="317.28" stroke="#2a1e36" stroke-width="2"/>
<path d="M308.63 312.28L310.93 309.98L313.23 312.28L310.93 314.58Z" fill="#f8f2ff" stroke="#5e5070" stroke-width="1.1"/>
<rect x="394.1" y="46" width="71.2" height="282.8" fill="#c4f8fa"/>
<rect x="395.9" y="47.8" width="67.6" height="279.2" fill="#a6f2f6"/>
<line x1="423.5" y1="47" x2="423.5" y2="327.8" stroke="#c6d4d6" stroke-width="1.2"/>
<line x1="449.4" y1="47" x2="449.4" y2="327.8" stroke="#c6d4d6" stroke-width="1.2"/>
<line x1="395.1" y1="69.9" x2="464.3" y2="69.9" stroke="#a8c0c2" stroke-width="1.15"/>
<line x1="395.1" y1="82.96" x2="464.3" y2="82.96" stroke="#a8c0c2" stroke-width="1.15"/>
<line x1="395.1" y1="96.02" x2="464.3" y2="96.02" stroke="#a8c0c2" stroke-width="1.15"/>
<line x1="395.1" y1="109.08" x2="464.3" y2="109.08" stroke="#a8c0c2" stroke-width="1.15"/>
<line x1="395.1" y1="122.14" x2="464.3" y2="122.14" stroke="#a8c0c2" stroke-width="1.15"/>
<line x1="395.1" y1="135.2" x2="464.3" y2="135.2" stroke="#a8c0c2" stroke-width="1.15"/>
<line x1="395.1" y1="148.26" x2="464.3" y2="148.26" stroke="#a8c0c2" stroke-width="1.15"/>
<line x1="395.1" y1="161.32" x2="464.3" y2="161.32" stroke="#a8c0c2" stroke-width="1.15"/>
<line x1="395.1" y1="174.38" x2="464.3" y2="174.38" stroke="#a8c0c2" stroke-width="1.15"/>
<line x1="395.1" y1="187.44" x2="464.3" y2="187.44" stroke="#a8c0c2" stroke-width="1.15"/>
<line x1="395.1" y1="200.5" x2="464.3" y2="200.5" stroke="#a8c0c2" stroke-width="1.15"/>
<line x1="395.1" y1="213.56" x2="464.3" y2="213.56" stroke="#a8c0c2" stroke-width="1.15"/>
<line x1="395.1" y1="226.62" x2="464.3" y2="226.62" stroke="#a8c0c2" stroke-width="1.15"/>
<line x1="395.1" y1="239.68" x2="464.3" y2="239.68" stroke="#a8c0c2" stroke-width="1.15"/>
<line x1="395.1" y1="252.74" x2="464.3" y2="252.74" stroke="#a8c0c2" stroke-width="1.15"/>
<line x1="395.1" y1="265.8" x2="464.3" y2="265.8" stroke="#a8c0c2" stroke-width="1.15"/>
<line x1="395.1" y1="278.86" x2="464.3" y2="278.86" stroke="#a8c0c2" stroke-width="1.15"/>
<line x1="395.1" y1="291.92" x2="464.3" y2="291.92" stroke="#a8c0c2" stroke-width="1.15"/>
<line x1="395.1" y1="304.98" x2="464.3" y2="304.98" stroke="#a8c0c2" stroke-width="1.15"/>
<line x1="394.1" y1="46" x2="465.3" y2="46" stroke="#4a4040" stroke-width="1.4"/>
<line x1="465.3" y1="46" x2="465.3" y2="328.8" stroke="#2f9494" stroke-width="1.5"/>
<line x1="394.1" y1="45.3" x2="394.1" y2="329.5" stroke="#8a7a7a" stroke-width="1.5"/>
<line x1="394.1" y1="328.8" x2="466" y2="328.8" stroke="#3a8080" stroke-width="1.4"/>
<line x1="396.4" y1="329.5" x2="396.4" y2="334.8" stroke="#333" stroke-width="1.3"/>
<line x1="409.7" y1="329.5" x2="409.7" y2="334.8" stroke="#333" stroke-width="1.3"/>
<line x1="423" y1="329.5" x2="423" y2="334.8" stroke="#333" stroke-width="1.3"/>
<line x1="436.3" y1="329.5" x2="436.3" y2="334.8" stroke="#333" stroke-width="1.3"/>
<line x1="449.6" y1="329.5" x2="449.6" y2="334.8" stroke="#333" stroke-width="1.3"/>
<line x1="462.9" y1="329.5" x2="462.9" y2="334.8" stroke="#333" stroke-width="1.3"/>
<text x="394" y="347.1" font-family="Liberation Sans, sans-serif" font-size="10.3" fill="#1a1a1a" stroke="#1a1a1a" stroke-width="0.3" text-anchor="middle">0</text>
<text x="407.3" y="347.1" font-family="Liberation Sans, sans-serif" font-size="10.3" fill="#1a1a1a" stroke="#1a1a1a" stroke-width="0.3" text-anchor="middle">20</text>
<text x="420.7" y="347.1" font-family="Liberation Sans, sans-serif" font-size="10.3" fill="#1a1a1a" stroke="#1a1a1a" stroke-width="0.3" text-anchor="middle">40</text>
<text x="434.4" y="347.1" font-family="Liberation Sans, sans-serif" font-size="10.3" fill="#1a1a1a" stroke="#1a1a1a" stroke-width="0.3" text-anchor="middle">60</text>
<text x="448.1" y="347.1" font-family="Liberation Sans, sans-serif" font-size="10.3" fill="#1a1a1a" stroke="#1a1a1a" stroke-width="0.3" text-anchor="middle">80</text>
<text x="464.7" y="347.1" font-family="Liberation Sans, sans-serif" font-size="10.3" fill="#1a1a1a" stroke="#1a1a1a" stroke-width="0.3" text-anchor="middle">100</text>
<line x1="398.73" y1="62.5" x2="400.19" y2="62.5" stroke="#266060" stroke-width="1" stroke-dasharray="2.5 2"/>
<line x1="400.19" y1="59.5" x2="400.19" y2="65.5" stroke="#266060" stroke-width="1.1"/>
<rect x="396.4" y="57.5" width="2.33" height="10" rx="1" fill="#cff9fb" fill-opacity="0.2" stroke="#266060" stroke-width="1.1"/>
<line x1="397" y1="57.5" x2="397" y2="67.5" stroke="#0c3434" stroke-width="2.2"/>
<line x1="399.46" y1="75.62" x2="403.18" y2="75.62" stroke="#266060" stroke-width="1" stroke-dasharray="2.5 2"/>
<line x1="403.18" y1="72.62" x2="403.18" y2="78.62" stroke="#266060" stroke-width="1.1"/>
<rect x="396.4" y="70.62" width="3.06" height="10" rx="1" fill="#cff9fb" fill-opacity="0.2" stroke="#266060" stroke-width="1.1"/>
<rect x="397.4" y="71.62" width="1.06" height="8" fill="none" stroke="#c4f8fa" stroke-width="0.8"/>
<line x1="397" y1="70.62" x2="397" y2="80.62" stroke="#0c3434" stroke-width="2.2"/>
<line x1="396.7" y1="83.74" x2="396.7" y2="93.74" stroke="#0c3434" stroke-width="2"/>
<line x1="396.4" y1="101.86" x2="402.78" y2="101.86" stroke="#266060" stroke-width="1" stroke-dasharray="2.5 2"/>
<line x1="396.4" y1="98.86" x2="396.4" y2="104.86" stroke="#266060" stroke-width="1.1"/>
<line x1="416.28" y1="101.86" x2="424.2" y2="101.86" stroke="#266060" stroke-width="1" stroke-dasharray="2.5 2"/>
<line x1="424.2" y1="98.86" x2="424.2" y2="104.86" stroke="#266060" stroke-width="1.1"/>
<rect x="402.78" y="96.86" width="13.5" height="10" rx="1" fill="#cff9fb" fill-opacity="0.2" stroke="#266060" stroke-width="1.1"/>
<rect x="403.78" y="97.86" width="11.5" height="8" fill="none" stroke="#c4f8fa" stroke-width="0.8"/>
<line x1="405.51" y1="96.86" x2="405.51" y2="106.86" stroke="#0c3434" stroke-width="2.2"/>
<line x1="396.7" y1="109.98" x2="396.7" y2="119.98" stroke="#0c3434" stroke-width="2"/>
<line x1="396.7" y1="123.1" x2="396.7" y2="133.1" stroke="#0c3434" stroke-width="2"/>
<path d="M395.43 128.1L397.73 125.8L400.03 128.1L397.73 130.4Z" fill="#c4f8fa" stroke="#2a6666" stroke-width="1.1"/>
<rect x="396.4" y="136.22" width="5.92" height="10" rx="1" fill="#cff9fb" fill-opacity="0.2" stroke="#266060" stroke-width="1.1"/>
<rect x="397.4" y="137.22" width="3.92" height="8" fill="none" stroke="#c4f8fa" stroke-width="0.8"/>
<line x1="398.53" y1="136.22" x2="398.53" y2="146.22" stroke="#0c3434" stroke-width="2.2"/>
<line x1="412.23" y1="154.34" x2="420.27" y2="154.34" stroke="#266060" stroke-width="1" stroke-dasharray="2.5 2"/>
<line x1="420.27" y1="151.34" x2="420.27" y2="157.34" stroke="#266060" stroke-width="1.1"/>
<rect x="403.38" y="149.34" width="8.84" height="10" rx="1" fill="#cff9fb" fill-opacity="0.2" stroke="#266060" stroke-width="1.1"/>
<rect x="404.38" y="150.34" width="6.84" height="8" fill="none" stroke="#c4f8fa" stroke-width="0.8"/>
<line x1="408.9" y1="149.34" x2="408.9" y2="159.34" stroke="#0c3434" stroke-width="2.2"/>
<rect x="396.4" y="162.46" width="2.66" height="10" rx="1" fill="#cff9fb" fill-opacity="0.2" stroke="#266060" stroke-width="1.1"/>
<line x1="397" y1="162.46" x2="397" y2="172.46" stroke="#0c3434" stroke-width="2.2"/>
<path d="M401.68 167.46L403.98 165.16L406.28 167.46L403.98 169.76Z" fill="#c4f8fa" stroke="#2a6666" stroke-width="1.1"/>
<line x1="396.7" y1="175.58" x2="396.7" y2="185.58" stroke="#0c3434" stroke-width="2"/>
<line x1="396.7" y1="188.7" x2="396.7" y2="198.7" stroke="#0c3434" stroke-width="2"/>
<line x1="398.39" y1="206.82" x2="399.72" y2="206.82" stroke="#266060" stroke-width="1" stroke-dasharray="2.5 2"/>
<line x1="399.72" y1="203.82" x2="399.72" y2="209.82" stroke="#266060" stroke-width="1.1"/>
<rect x="396.4" y="201.82" width="2" height="10" rx="1" fill="#cff9fb" fill-opacity="0.2" stroke="#266060" stroke-width="1.1"/>
<line x1="397" y1="201.82" x2="397" y2="211.82" stroke="#0c3434" stroke-width="2.2"/>
<path d="M401.22 206.82L403.52 204.52L405.82 206.82L403.52 209.12Z" fill="#c4f8fa" stroke="#2a6666" stroke-width="1.1"/>
<line x1="396.7" y1="214.94" x2="396.7" y2="224.94" stroke="#0c3434" stroke-width="2"/>
<path d="M395.43 219.94L397.73 217.64L400.03 219.94L397.73 222.24Z" fill="#c4f8fa" stroke="#2a6666" stroke-width="1.1"/>
<rect x="396.4" y="228.06" width="2" height="10" rx="1" fill="#cff9fb" fill-opacity="0.2" stroke="#266060" stroke-width="1.1"/>
<line x1="397" y1="228.06" x2="397" y2="238.06" stroke="#0c3434" stroke-width="2.2"/>
<path d="M401.08 233.06L403.38 230.76L405.68 233.06L403.38 235.36Z" fill="#c4f8fa" stroke="#2a6666" stroke-width="1.1"/>
<line x1="396.7" y1="241.18" x2="396.7" y2="251.18" stroke="#0c3434" stroke-width="2"/>
<line x1="396.4" y1="259.3" x2="399.06" y2="259.3" stroke="#266060" stroke-width="1"/>
<line x1="396.7" y1="254.3" x2="396.7" y2="264.3" stroke="#0c3434" stroke-width="2"/>
<path d="M400.22 259.3L402.52 257L404.82 259.3L402.52 261.6Z" fill="#c4f8fa" stroke="#2a6666" stroke-width="1.1"/>
<line x1="396.7" y1="267.42" x2="396.7" y2="277.42" stroke="#0c3434" stroke-width="2"/>
<path d="M395.43 272.42L397.73 270.12L400.03 272.42L397.73 274.72Z" fill="#c4f8fa" stroke="#2a6666" stroke-width="1.1"/>
<line x1="396.7" y1="280.54" x2="396.7" y2="290.54" stroke="#0c3434" stroke-width="2"/>
<path d="M395.43 285.54L397.73 283.24L400.03 285.54L397.73 287.84Z" fill="#c4f8fa" stroke="#2a6666" stroke-width="1.1"/>
<line x1="396.7" y1="293.66" x2="396.7" y2="303.66" stroke="#0c3434" stroke-width="2"/>
<path d="M395.43 298.66L397.73 296.36L400.03 298.66L397.73 300.96Z" fill="#c4f8fa" stroke="#2a6666" stroke-width="1.1"/>
<line x1="396.7" y1="306.78" x2="396.7" y2="316.78" stroke="#0c3434" stroke-width="2"/>
<path d="M395.43 311.78L397.73 309.48L400.03 311.78L397.73 314.08Z" fill="#c4f8fa" stroke="#2a6666" stroke-width="1.1"/>
<text x="9.9" y="67.8" font-family="Liberation Sans, sans-serif" font-size="11.6" fill="#111" stroke="#111" stroke-width="0.3" textLength="115.6" lengthAdjust="spacingAndGlyphs"><tspan font-style="italic">Vaccinium vitis-idaea</tspan></text>
<line x1="128" y1="63.5" x2="133.5" y2="63.5" stroke="#555" stroke-width="1"/>
<text x="6.6" y="80.92" font-family="Liberation Sans, sans-serif" font-size="11.6" fill="#111" stroke="#111" stroke-width="0.3" textLength="118.9" lengthAdjust="spacingAndGlyphs"><tspan font-style="italic">Vaccinium uliginosum</tspan></text>
<line x1="128" y1="76.62" x2="133.5" y2="76.62" stroke="#555" stroke-width="1"/>
<text x="69.8" y="94.04" font-family="Liberation Sans, sans-serif" font-size="11.6" fill="#111" stroke="#111" stroke-width="0.3" textLength="55.7" lengthAdjust="spacingAndGlyphs"><tspan font-style="italic">Rubiaceae</tspan></text>
<line x1="128" y1="89.74" x2="133.5" y2="89.74" stroke="#555" stroke-width="1"/>
<text x="75.3" y="107.16" font-family="Liberation Sans, sans-serif" font-size="11.6" fill="#111" stroke="#111" stroke-width="0.3" textLength="50.2" lengthAdjust="spacingAndGlyphs"><tspan font-style="italic">Dryas sp.</tspan></text>
<line x1="128" y1="102.86" x2="133.5" y2="102.86" stroke="#555" stroke-width="1"/>
<text x="40.5" y="120.28" font-family="Liberation Sans, sans-serif" font-size="11.6" fill="#111" stroke="#111" stroke-width="0.3" textLength="85" lengthAdjust="spacingAndGlyphs"><tspan font-style="normal">other </tspan><tspan font-style="italic">Ericaceae</tspan></text>
<line x1="128" y1="115.98" x2="133.5" y2="115.98" stroke="#555" stroke-width="1"/>
<text x="1.6" y="133.4" font-family="Liberation Sans, sans-serif" font-size="11.6" fill="#111" stroke="#111" stroke-width="0.3" textLength="123.9" lengthAdjust="spacingAndGlyphs"><tspan font-style="italic">Poaceae &amp; Cyperaceae</tspan></text>
<line x1="128" y1="129.1" x2="133.5" y2="129.1" stroke="#555" stroke-width="1"/>
<text x="85.7" y="146.52" font-family="Liberation Sans, sans-serif" font-size="11.6" fill="#111" stroke="#111" stroke-width="0.3" textLength="39.8" lengthAdjust="spacingAndGlyphs"><tspan font-style="normal">mosses</tspan></text>
<line x1="128" y1="142.22" x2="133.5" y2="142.22" stroke="#555" stroke-width="1"/>
<text x="87" y="159.64" font-family="Liberation Sans, sans-serif" font-size="11.6" fill="#111" stroke="#111" stroke-width="0.3" textLength="38.5" lengthAdjust="spacingAndGlyphs"><tspan font-style="normal">lichens</tspan></text>
<line x1="128" y1="155.34" x2="133.5" y2="155.34" stroke="#555" stroke-width="1"/>
<text x="41" y="172.76" font-family="Liberation Sans, sans-serif" font-size="11.6" fill="#111" stroke="#111" stroke-width="0.3" textLength="84.5" lengthAdjust="spacingAndGlyphs"><tspan font-style="italic">Ledum palustre</tspan></text>
<line x1="128" y1="168.46" x2="133.5" y2="168.46" stroke="#555" stroke-width="1"/>
<text x="73.9" y="185.88" font-family="Liberation Sans, sans-serif" font-size="11.6" fill="#111" stroke="#111" stroke-width="0.3" textLength="51.6" lengthAdjust="spacingAndGlyphs"><tspan font-style="italic">Fabaceae</tspan></text>
<line x1="128" y1="181.58" x2="133.5" y2="181.58" stroke="#555" stroke-width="1"/>
<text x="54.7" y="199" font-family="Liberation Sans, sans-serif" font-size="11.6" fill="#111" stroke="#111" stroke-width="0.3" textLength="70.8" lengthAdjust="spacingAndGlyphs"><tspan font-style="italic">Equisetaceae</tspan></text>
<line x1="128" y1="194.7" x2="133.5" y2="194.7" stroke="#555" stroke-width="1"/>
<text x="26.5" y="212.12" font-family="Liberation Sans, sans-serif" font-size="11.6" fill="#111" stroke="#111" stroke-width="0.3" textLength="99" lengthAdjust="spacingAndGlyphs"><tspan font-style="italic">Empetrum nigrum</tspan></text>
<line x1="128" y1="207.82" x2="133.5" y2="207.82" stroke="#555" stroke-width="1"/>
<text x="20.5" y="225.24" font-family="Liberation Sans, sans-serif" font-size="11.6" fill="#111" stroke="#111" stroke-width="0.3" textLength="105" lengthAdjust="spacingAndGlyphs"><tspan font-style="italic">Cassiope tetragona</tspan></text>
<line x1="128" y1="220.94" x2="133.5" y2="220.94" stroke="#555" stroke-width="1"/>
<text x="59.7" y="238.36" font-family="Liberation Sans, sans-serif" font-size="11.6" fill="#111" stroke="#111" stroke-width="0.3" textLength="65.8" lengthAdjust="spacingAndGlyphs"><tspan font-style="italic">Betula exilis</tspan></text>
<line x1="128" y1="234.06" x2="133.5" y2="234.06" stroke="#555" stroke-width="1"/>
<text x="65.7" y="251.48" font-family="Liberation Sans, sans-serif" font-size="11.6" fill="#111" stroke="#111" stroke-width="0.3" textLength="59.8" lengthAdjust="spacingAndGlyphs"><tspan font-style="italic">Asteraceae</tspan></text>
<line x1="128" y1="247.18" x2="133.5" y2="247.18" stroke="#555" stroke-width="1"/>
<text x="47.1" y="264.6" font-family="Liberation Sans, sans-serif" font-size="11.6" fill="#111" stroke="#111" stroke-width="0.3" textLength="78.4" lengthAdjust="spacingAndGlyphs"><tspan font-style="italic">Arctous alpina</tspan></text>
<line x1="128" y1="260.3" x2="133.5" y2="260.3" stroke="#555" stroke-width="1"/>
<text x="75.3" y="277.72" font-family="Liberation Sans, sans-serif" font-size="11.6" fill="#111" stroke="#111" stroke-width="0.3" textLength="50.2" lengthAdjust="spacingAndGlyphs"><tspan font-style="italic">Salix spp.</tspan></text>
<line x1="128" y1="273.42" x2="133.5" y2="273.42" stroke="#555" stroke-width="1"/>
<text x="46" y="290.84" font-family="Liberation Sans, sans-serif" font-size="11.6" fill="#111" stroke="#111" stroke-width="0.3" textLength="79.5" lengthAdjust="spacingAndGlyphs"><tspan font-style="italic">Larix cajanderi</tspan></text>
<line x1="128" y1="286.54" x2="133.5" y2="286.54" stroke="#555" stroke-width="1"/>
<text x="56.1" y="303.96" font-family="Liberation Sans, sans-serif" font-size="11.6" fill="#111" stroke="#111" stroke-width="0.3" textLength="69.4" lengthAdjust="spacingAndGlyphs"><tspan font-style="italic">Pinus pumila</tspan></text>
<line x1="128" y1="299.66" x2="133.5" y2="299.66" stroke="#555" stroke-width="1"/>
<text x="44.3" y="317.08" font-family="Liberation Sans, sans-serif" font-size="11.6" fill="#111" stroke="#111" stroke-width="0.3" textLength="81.2" lengthAdjust="spacingAndGlyphs"><tspan font-style="italic">Alnus fruticosa</tspan></text>
<line x1="128" y1="312.78" x2="133.5" y2="312.78" stroke="#555" stroke-width="1"/>
<text x="248.6" y="363.3" font-family="Liberation Sans, sans-serif" font-size="11.5" fill="#111" stroke="#111" stroke-width="0.4" textLength="102" lengthAdjust="spacingAndGlyphs">Projective cover, %</text>
</svg>
</body></html>
